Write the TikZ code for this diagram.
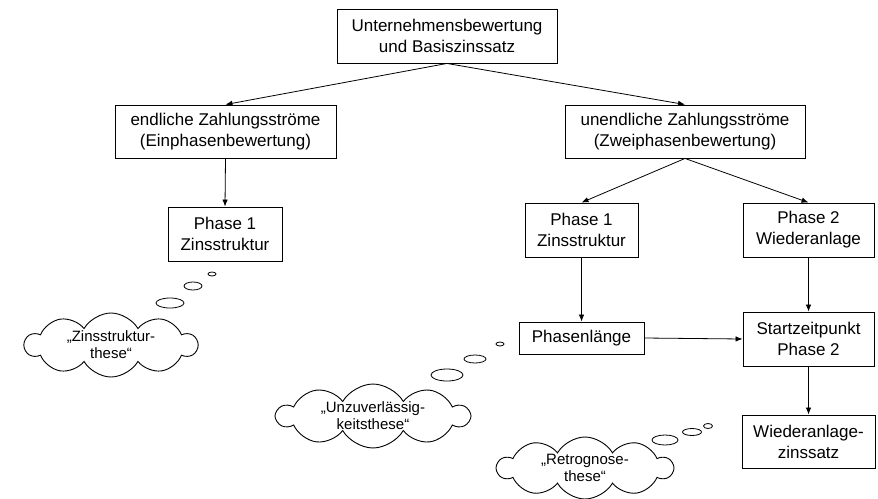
\documentclass[tikz,border=0pt]{standalone}
\usepackage{fontspec}
\setmainfont{Liberation Sans}
\usetikzlibrary{arrows.meta,shapes.symbols}
\begin{document}
\begin{tikzpicture}[x=1pt,y=-1pt,
  box/.style={draw=black,line width=0.9pt,align=center,inner sep=0pt,font=\fontsize{17}{21}\selectfont},
  arr/.style={-{Latex[length=7pt,width=5.5pt]},line width=0.8pt},
  thought/.style={draw,cloud,cloud puffs=10,cloud puff arc=120,cloud ignores aspect,line width=0.9pt,align=center,inner sep=0pt,font=\fontsize{15}{17}\selectfont},
  bubble/.style={line width=0.8pt}]
\useasboundingbox (0,0) rectangle (878,498);

\node[box,minimum width=220pt,minimum height=54pt] (top) at (447,36) {Unternehmensbewertung\\und Basiszinssatz};
\node[box,minimum width=221pt,minimum height=53pt] (endl) at (225.5,131.5) {endliche Zahlungsströme\\(Einphasenbewertung)};
\node[box,minimum width=240pt,minimum height=53pt] (unendl) at (685,131.5) {unendliche Zahlungsströme\\(Zweiphasenbewertung)};
\node[box,minimum width=114pt,minimum height=54pt] (p1l) at (225,234) {Phase 1\\Zinsstruktur};
\node[box,minimum width=113pt,minimum height=54pt] (p1r) at (581.5,230) {Phase 1\\Zinsstruktur};
\node[box,minimum width=131pt,minimum height=54pt] (p2) at (808.5,230) {Phase 2\\Wiederanlage};
\node[box,minimum width=125pt,minimum height=32pt] (plen) at (581.5,338) {Phasenlänge};
\node[box,minimum width=131pt,minimum height=54pt] (start) at (808.5,339) {Startzeitpunkt\\Phase 2};
\node[box,minimum width=133pt,minimum height=53pt] (wzins) at (808.5,441.5) {Wiederanlage-\\zinssatz};

\draw[arr] (top.south) -- (endl.north);
\draw[arr] (top.south) -- (unendl.north);
\draw[arr] (endl.south) -- (p1l.north);
\draw[arr] (unendl.south) -- (p1r.north);
\draw[arr] (unendl.south) -- (p2.north);
\draw[arr] (p1r.south) -- (plen.north);
\draw[arr] (p2.south) -- (start.north);
\draw[arr] (plen.east) -- (start.west);
\draw[arr] (start.south) -- (wzins.north);

\node[thought,minimum width=172pt,minimum height=64pt] (c1) at (111,345) {„Zinsstruktur-\\these“};
\node[thought,minimum width=192pt,minimum height=62pt] (c2) at (373,416) {„Unzuverlässig-\\keitsthese“};
\node[thought,minimum width=175pt,minimum height=62pt] (c3) at (585,468) {„Retrognose-\\these“};

\draw[bubble] (212,274) ellipse [x radius=4pt, y radius=2pt];
\draw[bubble] (193,286) ellipse [x radius=9pt, y radius=4pt];
\draw[bubble] (170,303) ellipse [x radius=14pt, y radius=5pt];

\draw[bubble] (500,344) ellipse [x radius=4pt, y radius=2pt];
\draw[bubble] (475,359) ellipse [x radius=11pt, y radius=4pt];
\draw[bubble] (447,375) ellipse [x radius=16pt, y radius=6pt];

\draw[bubble] (708,426) ellipse [x radius=4.5pt, y radius=2.5pt];
\draw[bubble] (692,432) ellipse [x radius=9.5pt, y radius=3.5pt];
\draw[bubble] (665,440) ellipse [x radius=13pt, y radius=5pt];
\end{tikzpicture}
\end{document}
